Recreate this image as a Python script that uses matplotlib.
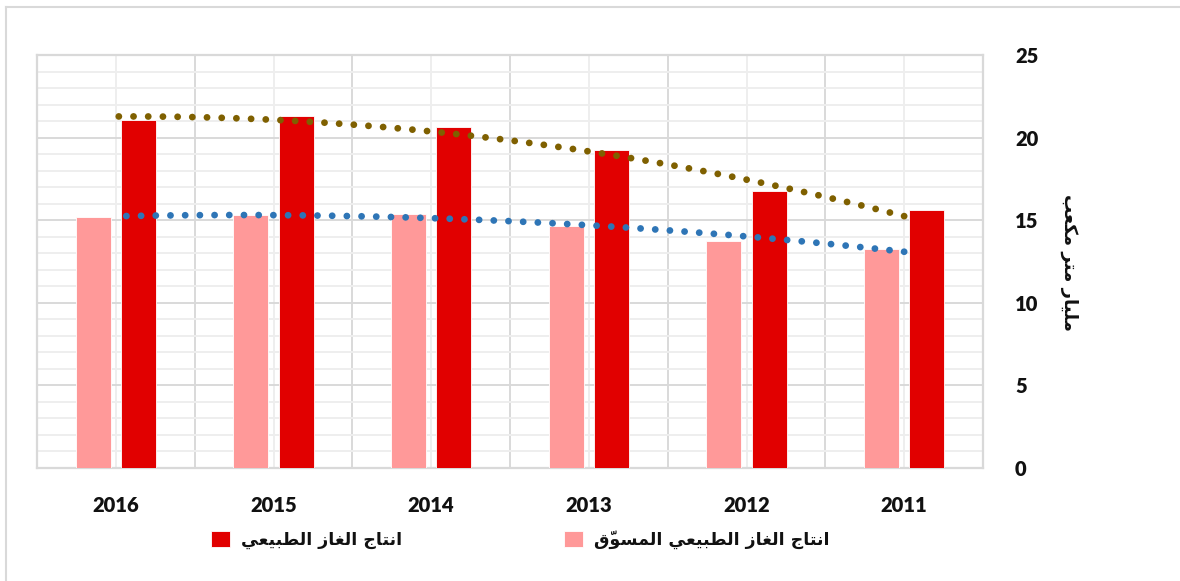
import numpy as np
import matplotlib
matplotlib.use("Agg")
import matplotlib.pyplot as plt
from matplotlib.lines import Line2D

# ---------------- data ----------------
years = ["2011", "2012", "2013", "2014", "2015", "2016"]
production = [15.62, 16.75, 19.25, 20.62, 21.29, 21.07]       # انتاج الغاز الطبيعي
marketed = [13.26, 13.72, 14.65, 15.37, 15.31, 15.17]         # انتاج الغاز الطبيعي المسوّق
label_production = "انتاج الغاز الطبيعي"
label_marketed = "انتاج الغاز الطبيعي المسوّق"
y_label = "مليار متر مكعب"
y_ticks = [0, 5, 10, 15, 20, 25]

# ------------- minimal Arabic shaping (matplotlib 3.10 has no bidi/shaping) -------------
FORMS = {
    'ا': (0xFE8D, 0xFE8E, None, None),
    'ب': (0xFE8F, 0xFE90, 0xFE91, 0xFE92),
    'ت': (0xFE95, 0xFE96, 0xFE97, 0xFE98),
    'ج': (0xFE9D, 0xFE9E, 0xFE9F, 0xFEA0),
    'ر': (0xFEAD, 0xFEAE, None, None),
    'ز': (0xFEAF, 0xFEB0, None, None),
    'س': (0xFEB1, 0xFEB2, 0xFEB3, 0xFEB4),
    'ط': (0xFEC1, 0xFEC2, 0xFEC3, 0xFEC4),
    'ع': (0xFEC9, 0xFECA, 0xFECB, 0xFECC),
    'غ': (0xFECD, 0xFECE, 0xFECF, 0xFED0),
    'ق': (0xFED5, 0xFED6, 0xFED7, 0xFED8),
    'ك': (0xFED9, 0xFEDA, 0xFEDB, 0xFEDC),
    'ل': (0xFEDD, 0xFEDE, 0xFEDF, 0xFEE0),
    'م': (0xFEE1, 0xFEE2, 0xFEE3, 0xFEE4),
    'ن': (0xFEE5, 0xFEE6, 0xFEE7, 0xFEE8),
    'و': (0xFEED, 0xFEEE, None, None),
    'ي': (0xFEF1, 0xFEF2, 0xFEF3, 0xFEF4),
}
MARKS = '\u0651'


def shape(s):
    chars = list(s)
    out = []
    for i, c in enumerate(chars):
        if c not in FORMS:
            out.append(c)
            continue
        j = i - 1
        while j >= 0 and chars[j] in MARKS:
            j -= 1
        k = i + 1
        while k < len(chars) and chars[k] in MARKS:
            k += 1
        prev_j = j >= 0 and chars[j] in FORMS and FORMS[chars[j]][2] is not None
        next_j = (k < len(chars) and chars[k] in FORMS and FORMS[c][2] is not None)
        iso, fin, ini, med = FORMS[c]
        if prev_j and next_j:
            g = med
        elif prev_j:
            g = fin
        elif next_j:
            g = ini
        else:
            g = iso
        out.append(chr(g))
    clusters = []
    for c in out:
        if c in MARKS and clusters:
            clusters[-1] = c + clusters[-1]   # mark drawn at the base's position
        else:
            clusters.append(c)
    return ''.join(reversed(clusters))


ARABIC_FONT = ['DejaVu Sans']
NUM_FONT = ['Lato', 'DejaVu Sans']

RED = '#E10000'
PINK = '#FF9999'
BROWN = '#7F6000'
BLUE = '#2E75B6'
GRID_MAJ = '#D9D9D9'
GRID_MIN = '#EEEEEE'

fig = plt.figure(figsize=(11.8, 5.81), dpi=100)
ax = fig.add_axes([37 / 1180, 1 - 468 / 581, (983 - 37) / 1180, (468 - 55) / 581])

x = np.arange(len(years))
w = 0.222
off = 0.143
# visual order is reversed (2016 on the left); pink on the left of red
b_pink = ax.bar(x + off, marketed, width=w, color=PINK, edgecolor='white', linewidth=0.6, zorder=3)
b_red = ax.bar(x - off, production, width=w, color=RED, edgecolor='white', linewidth=0.6, zorder=3)

# polynomial (order 2) trendlines, as in the source chart
xf = np.linspace(x[0], x[-1], 200)
for vals, col in [(production, BROWN), (marketed, BLUE)]:
    p = np.polyfit(x, vals, 2)
    ln, = ax.plot(xf, np.polyval(p, xf), color=col, lw=4.9, linestyle=(0, (0.01, 2.15)), zorder=4)
    ln.set_dash_capstyle('round')

ax.set_xlim(len(years) - 0.5, -0.5)
ax.set_ylim(0, 25)

ax.set_yticks(y_ticks)
ax.set_yticks(np.arange(0, 26, 1), minor=True)
ax.set_xticks(x)
ax.set_xticklabels(years)
ax.set_xticks(np.arange(-0.5, len(years), 1), minor=True)

ax.grid(True, which='major', axis='y', color=GRID_MAJ, lw=1.4, zorder=0)
ax.grid(True, which='minor', axis='y', color=GRID_MIN, lw=1.4, zorder=0)
ax.grid(True, which='minor', axis='x', color=GRID_MAJ, lw=1.4, zorder=0)
ax.grid(True, which='major', axis='x', color=GRID_MIN, lw=1.4, zorder=0)
ax.set_axisbelow(True)

for s in ax.spines.values():
    s.set_color(GRID_MAJ)
    s.set_linewidth(1.6)

ax.yaxis.tick_right()
ax.tick_params(axis='both', which='both', length=0)
ax.tick_params(axis='y', pad=23)
ax.tick_params(axis='x', pad=20)
for lab in ax.get_yticklabels() + ax.get_xticklabels():
    lab.set_fontfamily(NUM_FONT)
    lab.set_fontweight('heavy')
    lab.set_fontsize(14.5)
    lab.set_color('#111111')

fig.text(1069 / 1180, 1 - 262 / 581, shape(y_label), rotation=270, ha='center', va='center',
         fontsize=13, fontweight='bold', family=ARABIC_FONT, color='#111111')

leg = fig.legend([b_red, b_pink], [shape(label_production), shape(label_marketed)],
                 loc='center', bbox_to_anchor=(0.441, 0.071), ncol=2, frameon=False,
                 prop={'family': ARABIC_FONT, 'weight': 'bold', 'size': 12.5},
                 handlelength=1.1, handleheight=1.1, handletextpad=0.65, columnspacing=9.3)
for t in leg.get_texts():
    t.set_color('#111111')

# outer chart border (top and left visible)
fig.add_artist(Line2D([6 / 1180, 6 / 1180], [0, 1 - 7 / 581], transform=fig.transFigure,
                      color=GRID_MAJ, lw=1.5))
fig.add_artist(Line2D([6 / 1180, 1], [1 - 7 / 581, 1 - 7 / 581], transform=fig.transFigure,
                      color=GRID_MAJ, lw=1.5))

fig.savefig('out.png', dpi=100)
